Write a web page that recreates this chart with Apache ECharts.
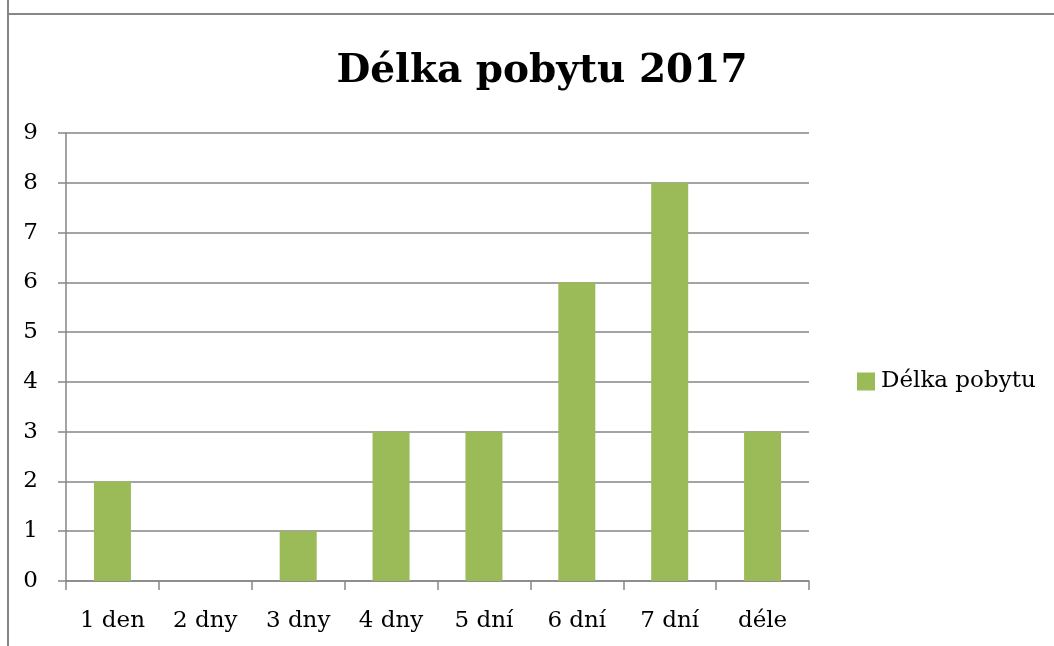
<!DOCTYPE html>
<html>
<head>
<meta charset="utf-8">
<script src="https://cdn.jsdelivr.net/npm/echarts@6/dist/echarts.min.js"></script>
<style>
  html, body { margin: 0; padding: 0; overflow: hidden; background: #fff; }
  #chart { width: 1054px; height: 646px; }
</style>
</head>
<body>
<div id="chart"></div>
<script>
const title = "Délka pobytu 2017";
const seriesName = "Délka pobytu";
const categories = ["1 den", "2 dny", "3 dny", "4 dny", "5 dní", "6 dní", "7 dní", "déle"];
const values = [2, 0, 1, 3, 3, 6, 8, 3];
const yMin = 0, yMax = 9, yStep = 1;

const font = "DejaVu Serif";
const chart = echarts.init(document.getElementById("chart"));

chart.setOption({
  animation: false,
  title: {
    text: title,
    left: 537,
    textAlign: "center",
    top: 47,
    textStyle: { fontFamily: font, fontWeight: "bold", fontSize: 39, color: "#000" }
  },
  legend: {
    data: [seriesName],
    left: 852,
    top: 365,
    icon: "rect",
    itemWidth: 18,
    itemHeight: 18,
    itemGap: 6,
    textStyle: { fontFamily: font, fontSize: 23, color: "#000", padding: [0, 0, 0, 1] }
  },
  grid: { left: 66, top: 133, width: 743, height: 448, containLabel: false },
  xAxis: {
    type: "category",
    data: categories,
    axisLine: { lineStyle: { color: "#868686", width: 1.5 } },
    axisTick: { show: true, length: 9, lineStyle: { color: "#868686", width: 1.5 } },
    axisLabel: { fontFamily: font, fontSize: 23, color: "#000", margin: 29 }
  },
  yAxis: {
    type: "value",
    min: yMin,
    max: yMax,
    interval: yStep,
    axisLine: { show: true, lineStyle: { color: "#868686", width: 1.5 } },
    axisTick: { show: true, length: 8, lineStyle: { color: "#868686", width: 1.5 } },
    splitLine: { lineStyle: { color: "#868686", width: 1.5 } },
    axisLabel: { fontFamily: font, fontSize: 23, color: "#000", margin: 28 }
  },
  series: [{
    name: seriesName,
    type: "bar",
    data: values,
    barWidth: 37,
    itemStyle: { color: "#9BBB59" }
  }],
  graphic: [
    { type: "line", shape: { x1: 8, y1: 0, x2: 8, y2: 646 }, style: { stroke: "#868686", lineWidth: 2 }, silent: true },
    { type: "line", shape: { x1: 7, y1: 14, x2: 1054, y2: 14 }, style: { stroke: "#868686", lineWidth: 2 }, silent: true }
  ]
});
</script>
</body>
</html>
